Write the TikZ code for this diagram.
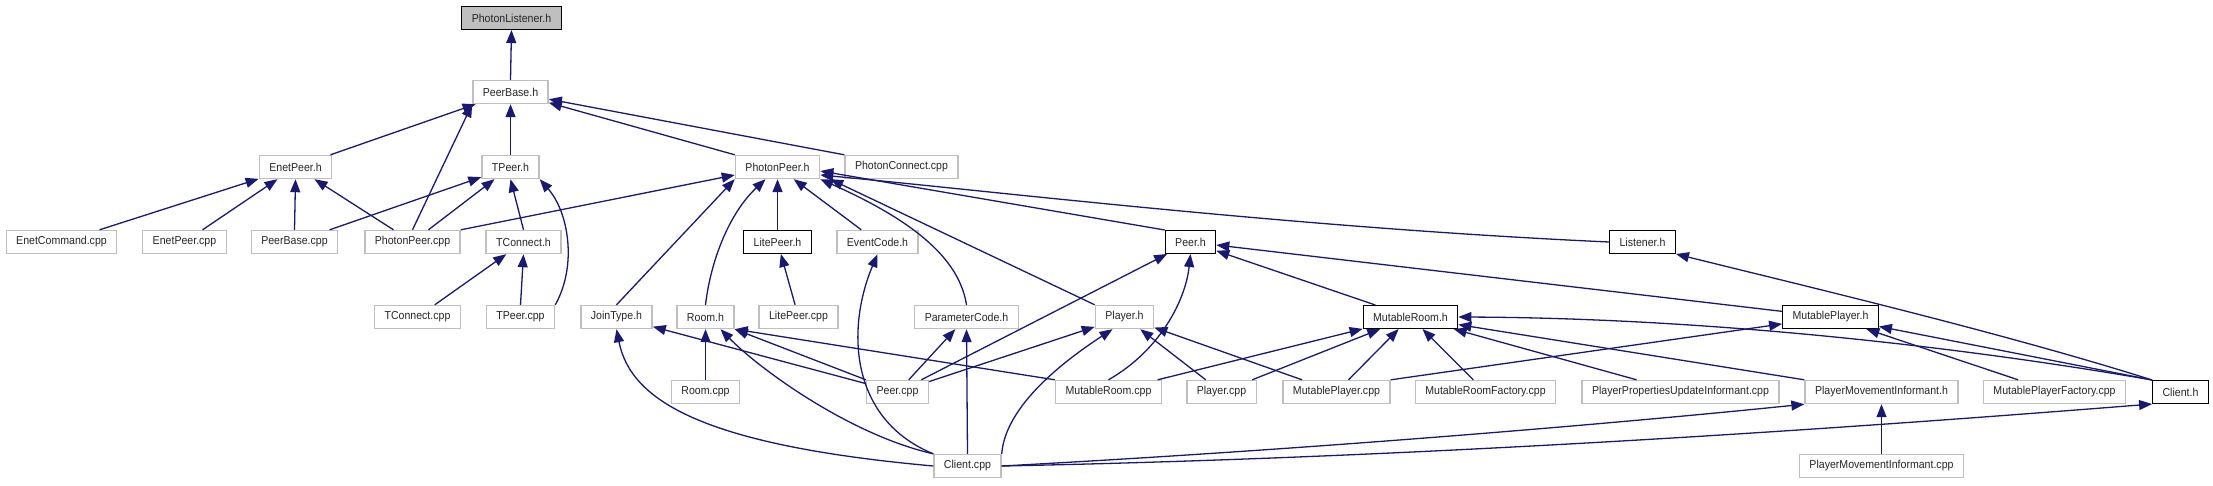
\documentclass[tikz,border=0pt]{standalone}
\usepackage{fontspec}
\setmainfont[FakeStretch=0.92]{Liberation Sans}
\usetikzlibrary{arrows.meta}
\definecolor{edgeblue}{HTML}{191970}
\definecolor{boxgray}{HTML}{BFBFBF}
\tikzset{
  filebox/.style={draw=boxgray, line width=1.4pt, fill=white, inner xsep=10pt, inner ysep=0pt,
    minimum height=23pt, font=\fontsize{11.5}{13}\selectfont, text=black!85},
  linkbox/.style={filebox, draw=black, line width=1pt},
  rootbox/.style={filebox, draw=black, line width=1pt, fill=boxgray},
  dep/.style={draw=edgeblue, line width=1.3pt, -{Triangle[length=13pt,width=10pt]}}
}
\begin{document}
\begin{tikzpicture}[x=1pt,y=-1pt]
\useasboundingbox (0,0) rectangle (2213,485);
\begin{scope}[shift={(0.5,0)}]
% row 0
\node[rootbox] (PL) at (511,18) {PhotonListener.h};
% row 1
\node[filebox] (PB) at (510,92) {PeerBase.h};
% row 2
\node[filebox] (EPh) at (295,167) {EnetPeer.h};
\node[filebox] (TPh) at (510,167) {TPeer.h};
\node[filebox] (PPh) at (777,167) {PhotonPeer.h};
\node[filebox] (PCc) at (901,167) {PhotonConnect.cpp};
% row 3
\node[filebox] (ECc) at (61,242) {EnetCommand.cpp};
\node[filebox] (EPc) at (184,242) {EnetPeer.cpp};
\node[filebox] (PBc) at (294,242) {PeerBase.cpp};
\node[filebox] (PPc) at (412,242) {PhotonPeer.cpp};
\node[filebox] (TCh) at (523,242) {TConnect.h};
\node[linkbox] (LPh) at (777,242) {LitePeer.h};
\node[filebox] (EVh) at (877,242) {EventCode.h};
\node[linkbox] (PRh) at (1190,242) {Peer.h};
\node[linkbox] (LSh) at (1642,242) {Listener.h};
% row 4
\node[filebox] (TCc) at (417,317) {TConnect.cpp};
\node[filebox] (TPc) at (520,317) {TPeer.cpp};
\node[filebox] (JTh) at (616,317) {JoinType.h};
\node[filebox] (RMh) at (705,317) {Room.h};
\node[filebox] (LPc) at (798,317) {LitePeer.cpp};
\node[filebox] (PCh) at (966,317) {ParameterCode.h};
\node[filebox] (PYh) at (1124,317) {Player.h};
\node[linkbox] (MRh) at (1410,317) {MutableRoom.h};
\node[linkbox] (MPh) at (1830,317) {MutablePlayer.h};
% row 5
\node[filebox] (RMc) at (705,392) {Room.cpp};
\node[filebox] (PRc) at (897,392) {Peer.cpp};
\node[filebox] (MRc) at (1108,392) {MutableRoom.cpp};
\node[filebox] (PYc) at (1221,392) {Player.cpp};
\node[filebox] (MPc) at (1336,392) {MutablePlayer.cpp};
\node[filebox] (MRF) at (1485,392) {MutableRoomFactory.cpp};
\node[filebox] (PPU) at (1680,392) {PlayerPropertiesUpdateInformant.cpp};
\node[filebox] (PMh) at (1881,392) {PlayerMovementInformant.h};
\node[filebox] (MPF) at (2054,392) {MutablePlayerFactory.cpp};
\node[linkbox] (CLh) at (2180,392) {Client.h};
% row 6
\node[filebox] (CLc) at (967,466) {Client.cpp};
\node[filebox] (PMc) at (1881,466) {PlayerMovementInformant.cpp};

% edges (child -> parent)
\draw[dep] (PB.north) -- (PL.south);
\draw[dep] (EPh) -- (PB);
\draw[dep] (PPc.north) -- (PB.south west);
\draw[dep] (TPh.north) -- (PB.south);
\draw[dep] (PPh.north west) -- (PB);
\draw[dep] (PCc.north west) -- (PB);

\draw[dep] (ECc) -- (EPh);
\draw[dep] (EPc) -- (EPh);
\draw[dep] (PBc.north) -- (EPh.south);
\draw[dep] (PPc) -- (EPh);
\draw[dep] (PBc) -- (TPh);
\draw[dep] (PPc) -- (TPh);
\draw[dep] (TCh.north) -- (TPh.south);
\draw[dep] (TPc.north east) .. controls (577,265) and (568,212) .. (TPh.south east);

\draw[dep] (PPc.north east) -- ([yshift=-8pt]PPh.west);
\draw[dep] (JTh.north) -- (PPh.south west);
\draw[dep] (RMh.north) .. controls (710,262) and (728,214) .. ([xshift=-12pt]PPh.south);
\draw[dep] (LPh.north) -- (PPh.south);
\draw[dep] (EVh) -- (PPh);
\draw[dep] (PCh.north) .. controls (960,268) and (930,228) .. (PPh.south east);
\draw[dep] (PYh.north west) -- ([xshift=10pt]PPh.south east);
\draw[dep] (PRh.north west) -- ([yshift=-4pt]PPh.east);
\draw[dep] (LSh.west) .. controls (1300,228) and (1000,192) .. ([yshift=-8pt]PPh.east);

\draw[dep] (TCc) -- (TCh);
\draw[dep] (TPc.north) -- (TCh.south);
\draw[dep] (LPc) -- (LPh);
\draw[dep] (CLc.north west) .. controls (850,420) and (845,330) .. (EVh.south);

\draw[dep] (PRc) -- (PRh);
\draw[dep] (MRc.north) .. controls (1160,350) and (1185,300) .. (PRh.south);
\draw[dep] (MRh) -- (PRh);
\draw[dep] (MPh) -- (PRh);
\draw[dep] (CLh.north west) .. controls (2000,332) and (1800,285) .. (LSh.south east);

\draw[dep] (PRc) -- (JTh);
\draw[dep] (CLc.west) .. controls (700,445) and (630,400) .. (JTh.south);
\draw[dep] (RMc.north) -- (RMh.south);
\draw[dep] (PRc.north west) -- (RMh.south east);
\draw[dep] (MRc.north west) -- (RMh.south east);
\draw[dep] (CLc.north west) .. controls (850,435) and (760,370) .. ([xshift=15pt]RMh.south);

\draw[dep] (PRc) -- (PCh);
\draw[dep] (CLc.north) -- (PCh.south);
\draw[dep] (PRc) -- (PYh);
\draw[dep] (CLc.north east) .. controls (1005,405) and (1065,360) .. ([xshift=-12pt]PYh.south);
\draw[dep] (PYc) -- (PYh);
\draw[dep] (MPc) -- (PYh);

\draw[dep] (MRc) -- (MRh);
\draw[dep] (PYc) -- (MRh);
\draw[dep] (MPc) -- (MRh);
\draw[dep] (MRF) -- (MRh);
\draw[dep] (PPU) -- (MRh);
\draw[dep] (PMh.north west) -- (MRh);
\draw[dep] (CLh.north west) .. controls (1950,345) and (1700,318) .. (MRh.east);

\draw[dep] (MPc.north east) -- (MPh);
\draw[dep] (MPF) -- (MPh);
\draw[dep] (CLh.north west) -- (MPh);

\draw[dep] (CLc.east) .. controls (1300,450) and (1600,425) .. (PMh.south west);
\draw[dep] (PMc.north) -- (PMh.south);
\draw[dep] (CLc.east) .. controls (1400,458) and (1800,432) .. (CLh.south west);
\end{scope}
\end{tikzpicture}
\end{document}
